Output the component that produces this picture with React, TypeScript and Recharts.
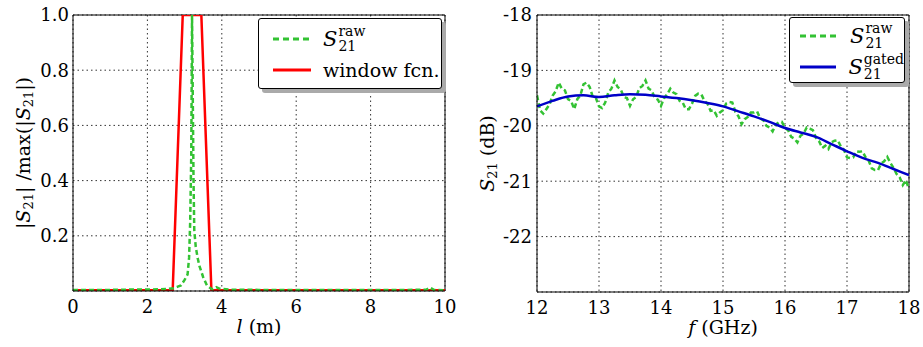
import React from 'react';
import { CartesianGrid, Label, Legend, Line, LineChart, ReferenceLine, XAxis, YAxis } from 'recharts';

// left panel: time-domain response vs length
const rawLen = [0, 0.5, 1, 1.5, 2, 2.5, 2.7, 2.8, 2.9, 3.0, 3.08, 3.12, 3.15, 3.18, 3.2, 3.22, 3.24, 3.26, 3.3, 3.35, 3.4, 3.45, 3.5, 3.55, 3.6, 3.7, 3.75, 3.85, 3.95, 4.2, 5, 6, 7, 8, 9, 9.5, 9.6, 9.7, 10];
const rawMag = [0.004, 0.004, 0.004, 0.005, 0.005, 0.007, 0.01, 0.015, 0.02, 0.04, 0.06, 0.12, 0.25, 0.5, 1.0, 0.7, 0.4, 0.22, 0.16, 0.12, 0.09, 0.07, 0.05, 0.035, 0.02, 0.01, 0.006, 0.014, 0.008, 0.005, 0.004, 0.004, 0.004, 0.004, 0.004, 0.005, 0.012, 0.004, 0.003];
const winLen = [0, 2.68, 2.95, 3.45, 3.72, 10];
const winVal = [0.003, 0.003, 1.0, 1.0, 0.003, 0.003];
const lenTicks = [0, 2, 4, 6, 8, 10];
const magTicks = [0.2, 0.4, 0.6, 0.8, 1.0];

// right panel: S21 in dB vs frequency
const rawDb = [
  -19.45, -19.72, -19.78, -19.7, -19.62, -19.46, -19.38, -19.22, -19.33, -19.36,
  -19.52, -19.55, -19.7, -19.52, -19.45, -19.25, -19.22, -19.3, -19.48, -19.5,
  -19.65, -19.68, -19.58, -19.4, -19.33, -19.18, -19.3, -19.34, -19.48, -19.5,
  -19.64, -19.52, -19.48, -19.32, -19.28, -19.18, -19.33, -19.36, -19.5, -19.53,
  -19.64, -19.5, -19.43, -19.33, -19.4, -19.43, -19.55, -19.58, -19.7, -19.7,
  -19.6, -19.46, -19.42, -19.43, -19.55, -19.6, -19.73, -19.72, -19.82, -19.76,
  -19.72, -19.6, -19.57, -19.58, -19.75, -19.83, -19.97, -19.88, -19.84, -19.76,
  -19.76, -19.74, -19.87, -19.9, -20.0, -20.03, -20.1, -19.98, -19.94, -19.93,
  -20.04, -20.08, -20.2, -20.23, -20.3, -20.18, -20.14, -20.03, -20.05, -20.08,
  -20.22, -20.28, -20.4, -20.36, -20.42, -20.3, -20.27, -20.26, -20.37, -20.43,
  -20.57, -20.58, -20.57, -20.46, -20.47, -20.46, -20.57, -20.63, -20.77, -20.8,
  -20.8, -20.68, -20.64, -20.56, -20.67, -20.76, -20.87, -20.93, -21.07, -20.98,
  -21.15,
];
const gatedFreq = [12, 12.25, 12.5, 12.75, 13, 13.25, 13.5, 13.75, 14, 14.25, 14.5, 14.75, 15, 15.25, 15.5, 15.75, 16, 16.25, 16.5, 16.75, 17, 17.25, 17.5, 17.75, 18];
const gatedDb = [-19.65, -19.55, -19.47, -19.45, -19.48, -19.45, -19.43, -19.44, -19.47, -19.5, -19.54, -19.59, -19.65, -19.74, -19.83, -19.93, -20.04, -20.12, -20.2, -20.33, -20.46, -20.58, -20.67, -20.78, -20.89];
const freqTicks = [12, 13, 14, 15, 16, 17, 18];
const dbTicks = [-18, -19, -20, -21, -22];

const rawLeft = rawLen.map((l, i) => ({ x: l, y: rawMag[i] }));
const winLeft = winLen.map((l, i) => ({ x: l, y: winVal[i] }));
const rawRight = rawDb.map((v, i) => ({ x: 12 + i * 0.05, y: v }));
const gatedRight = gatedFreq.map((f, i) => ({ x: f, y: gatedDb[i] }));

const FONT = 'DejaVu Serif';
const GREEN = '#33c233';
const RED = '#ff0000';
const BLUE = '#0000c8';
const tickStyle = { fill: '#000', fontSize: 18, fontFamily: FONT };

const SymS = ({ sup }: { sup: string }) => (
  <span style={{ display: 'inline-flex', alignItems: 'center' }}>
    <span style={{ fontStyle: 'italic', fontSize: 21 }}>S</span>
    <span style={{ display: 'inline-flex', flexDirection: 'column', fontSize: 14, lineHeight: '15px', marginLeft: 1 }}>
      <span>{sup}</span>
      <span>21</span>
    </span>
  </span>
);

const LegendBox = ({ items, style }: { items: { label: React.ReactNode; color: string; dash?: string }[]; style: any }) => (
  <div
    style={{
      border: '1px solid #000',
      borderRadius: 3,
      background: '#fff',
      boxShadow: '4px 4px 0 #aaa',
      fontFamily: FONT,
      color: '#000',
      boxSizing: 'border-box',
      ...style,
    }}
  >
    {items.map((it, i) => (
      <div key={i} style={{ display: 'flex', alignItems: 'center', height: 31 }}>
        <svg width={38} height={10} style={{ marginRight: 12 }}>
          <line x1={0} y1={5} x2={38} y2={5} stroke={it.color} strokeWidth={3} strokeDasharray={it.dash} />
        </svg>
        {it.label}
      </div>
    ))}
  </div>
);

const XLabel = ({ viewBox, children }: any) => {
  const { x, y, width } = viewBox;
  return (
    <text x={x + width / 2} y={y + 42} textAnchor='middle' fontSize={19} fontFamily={FONT} fill='#000'>
      {children}
    </text>
  );
};

const YLabel = ({ viewBox, cx, children }: any) => {
  const { y, height } = viewBox;
  const cy = y + height / 2;
  return (
    <text
      x={cx}
      y={cy}
      transform={`rotate(-90 ${cx} ${cy})`}
      textAnchor='middle'
      dominantBaseline='central'
      fontSize={19}
      fontFamily={FONT}
      fill='#000'
    >
      {children}
    </text>
  );
};

const App: React.FC = () => {
  return (
    <div style={{ position: 'absolute', left: 0, top: 0, width: 923, height: 347, background: '#fff' }}>
      <div style={{ position: 'absolute', left: 0, top: 0 }}>
        <LineChart width={460} height={347} margin={{ top: 15, right: 15, left: 0, bottom: 0 }}>
          <CartesianGrid stroke='#333' strokeDasharray='1.5 3' />
          <XAxis
            type='number'
            dataKey='x'
            domain={[0, 10]}
            ticks={lenTicks}
            height={56}
            tickSize={0}
            tickMargin={9}
            tick={tickStyle}
            axisLine={{ stroke: '#000' }}
            allowDataOverflow
          >
            <Label
              content={(p: any) => (
                <XLabel viewBox={p.viewBox}>
                  <tspan fontStyle='italic'>l</tspan>
                  <tspan> (m)</tspan>
                </XLabel>
              )}
            />
          </XAxis>
          <YAxis
            type='number'
            domain={[0, 1]}
            ticks={magTicks}
            tickFormatter={(v: number) => v.toFixed(1)}
            width={73}
            tickSize={0}
            tickMargin={4}
            tick={tickStyle}
            axisLine={{ stroke: '#000' }}
            allowDataOverflow
          >
            <Label
              content={(p: any) => (
                <YLabel viewBox={p.viewBox} cx={23}>
                  <tspan>|</tspan>
                  <tspan fontStyle='italic'>S</tspan>
                  <tspan fontSize={13} dy={5}>21</tspan>
                  <tspan dy={-5}>| /max(|</tspan>
                  <tspan fontStyle='italic'>S</tspan>
                  <tspan fontSize={13} dy={5}>21</tspan>
                  <tspan dy={-5}>|)</tspan>
                </YLabel>
              )}
            />
          </YAxis>
          <ReferenceLine y={1} stroke='#000' />
          <ReferenceLine x={10} stroke='#000' />
          <Line data={winLeft} dataKey='y' type='linear' stroke={RED} strokeWidth={2.5} dot={false} isAnimationActive={false} />
          <Line data={rawLeft} dataKey='y' type='linear' stroke={GREEN} strokeWidth={2.5} strokeDasharray='5 3' dot={false} isAnimationActive={false} />
          <Legend
            layout='vertical'
            align='center'
            verticalAlign='middle'
            wrapperStyle={{ left: 258, top: 18, width: 'auto' }}
            content={() => (
              <LegendBox
                style={{ width: 184, height: 71, padding: '4px 0 0 14px' }}
                items={[
                  { label: <SymS sup='raw' />, color: GREEN, dash: '6 4' },
                  { label: <span style={{ fontSize: 19 }}>window fcn.</span>, color: RED },
                ]}
              />
            )}
          />
        </LineChart>
      </div>
      <div style={{ position: 'absolute', left: 460, top: 0 }}>
        <LineChart width={463} height={347} margin={{ top: 15, right: 14, left: 0, bottom: 0 }}>
          <CartesianGrid stroke='#333' strokeDasharray='1.5 3' />
          <XAxis
            type='number'
            dataKey='x'
            domain={[12, 18]}
            ticks={freqTicks}
            height={55}
            tickSize={0}
            tickMargin={9}
            tick={tickStyle}
            axisLine={{ stroke: '#000' }}
            allowDataOverflow
          >
            <Label
              content={(p: any) => (
                <XLabel viewBox={p.viewBox}>
                  <tspan fontStyle='italic'>f</tspan>
                  <tspan> (GHz)</tspan>
                </XLabel>
              )}
            />
          </XAxis>
          <YAxis
            type='number'
            domain={[-23, -18]}
            ticks={dbTicks}
            width={77}
            tickSize={0}
            tickMargin={5}
            tick={tickStyle}
            axisLine={{ stroke: '#000' }}
            allowDataOverflow
          >
            <Label
              content={(p: any) => (
                <YLabel viewBox={p.viewBox} cx={27}>
                  <tspan fontStyle='italic'>S</tspan>
                  <tspan fontSize={13} dy={5}>21</tspan>
                  <tspan dy={-5}> (dB)</tspan>
                </YLabel>
              )}
            />
          </YAxis>
          <ReferenceLine y={-18} stroke='#000' />
          <ReferenceLine x={18} stroke='#000' />
          <Line data={rawRight} dataKey='y' type='linear' stroke={GREEN} strokeWidth={2.5} strokeDasharray='5 3' dot={false} isAnimationActive={false} />
          <Line data={gatedRight} dataKey='y' type='monotone' stroke={BLUE} strokeWidth={2.5} dot={false} isAnimationActive={false} />
          <Legend
            layout='vertical'
            align='center'
            verticalAlign='middle'
            wrapperStyle={{ left: 329, top: 17, width: 'auto' }}
            content={() => (
              <LegendBox
                style={{ width: 116, height: 66, padding: '2px 0 0 10px' }}
                items={[
                  { label: <SymS sup='raw' />, color: GREEN, dash: '6 4' },
                  { label: <SymS sup='gated' />, color: BLUE },
                ]}
              />
            )}
          />
        </LineChart>
      </div>
    </div>
  );
};

export default App;
